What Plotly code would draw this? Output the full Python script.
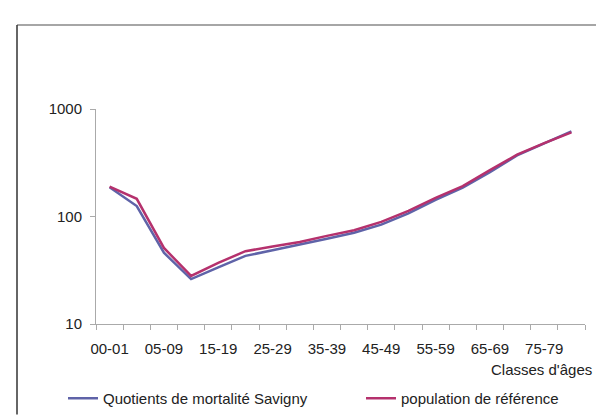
import plotly.graph_objects as go

categories = ["00-01", "01-04", "05-09", "10-14", "15-19", "20-24", "25-29", "30-34",
              "35-39", "40-44", "45-49", "50-54", "55-59", "60-64", "65-69", "70-74",
              "75-79", "80-84"]
savigny = [187, 125, 46, 26.2, 33.6, 43, 48.5, 54.5, 62, 70.5, 84, 107, 143, 186, 258, 370, 480, 620]
reference = [190, 146, 51, 28, 37, 47.6, 52.5, 58, 66, 74.5, 89, 113, 149, 192, 270, 376, 482, 605]
series_names = ["Quotients de mortalité Savigny", "population de référence"]
y_ticks = [10, 100, 1000]

xs = list(range(len(categories)))

FS = 15

fig = go.Figure()
fig.add_trace(go.Scatter(x=xs, y=savigny, mode="lines", name=series_names[0],
                         line=dict(color="#5f63a8", width=2.5), legend="legend"))
fig.add_trace(go.Scatter(x=xs, y=reference, mode="lines", name=series_names[1],
                         line=dict(color="#b5316d", width=2.5), legend="legend2"))

W, H = 604, 419
L, R, T, B = 88, 27, 101, 90
pw, ph = W - L - R, H - T - B

def px(x):
    return (x - L) / pw

def py(y):
    return (H - B - y) / ph

leg_common = dict(orientation="h", yanchor="middle", xanchor="left",
                  font=dict(size=FS, color="#222"), bgcolor="rgba(0,0,0,0)",
                  borderwidth=0)

fig.update_layout(
    width=W, height=H,
    margin=dict(l=L, r=R, t=T, b=B),
    paper_bgcolor="white", plot_bgcolor="white",
    font=dict(family="Liberation Sans, Arial, sans-serif", size=FS, color="#222"),
    showlegend=True,
    legend=dict(x=px(55), y=py(408), **leg_common),
    legend2=dict(x=px(353), y=py(408), **leg_common),
    xaxis=dict(range=[-0.5, len(categories) - 0.5], tickmode="array",
               tickvals=xs[::2], ticktext=categories[::2], ticks="",
               ticklabelstandoff=11,
               showline=True, linecolor="#aaaaaa", linewidth=1, showgrid=False,
               zeroline=False, fixedrange=True,
               minor=dict(tickmode="array", tickvals=[i - 0.5 for i in range(len(categories) + 1)],
                          ticks="outside", ticklen=5, tickcolor="#aaaaaa", showgrid=False)),
    yaxis=dict(type="log", range=[1, 3], tickmode="array", tickvals=y_ticks,
               ticktext=[str(v) for v in y_ticks], ticks="outside", ticklen=5,
               ticklabelstandoff=5,
               tickcolor="#aaaaaa", showline=True, linecolor="#aaaaaa", linewidth=1,
               showgrid=False, zeroline=False, fixedrange=True),
    annotations=[dict(text="Classes d'âges", xref="paper", yref="paper",
                      x=px(586), y=py(377), xanchor="right", yanchor="middle",
                      showarrow=False, font=dict(size=FS, color="#222"))],
    shapes=[
        dict(type="line", xref="paper", yref="paper", x0=px(9), x1=px(599), y0=py(12), y1=py(12),
             line=dict(color="#888888", width=1.5)),
        dict(type="line", xref="paper", yref="paper", x0=px(9), x1=px(9), y0=py(12), y1=py(425),
             line=dict(color="#333333", width=1.5)),
        dict(type="line", xref="paper", yref="paper", x0=px(599), x1=px(599), y0=py(12), y1=py(425),
             line=dict(color="#555555", width=1.5)),
    ],
)

fig.write_html("out.html")
